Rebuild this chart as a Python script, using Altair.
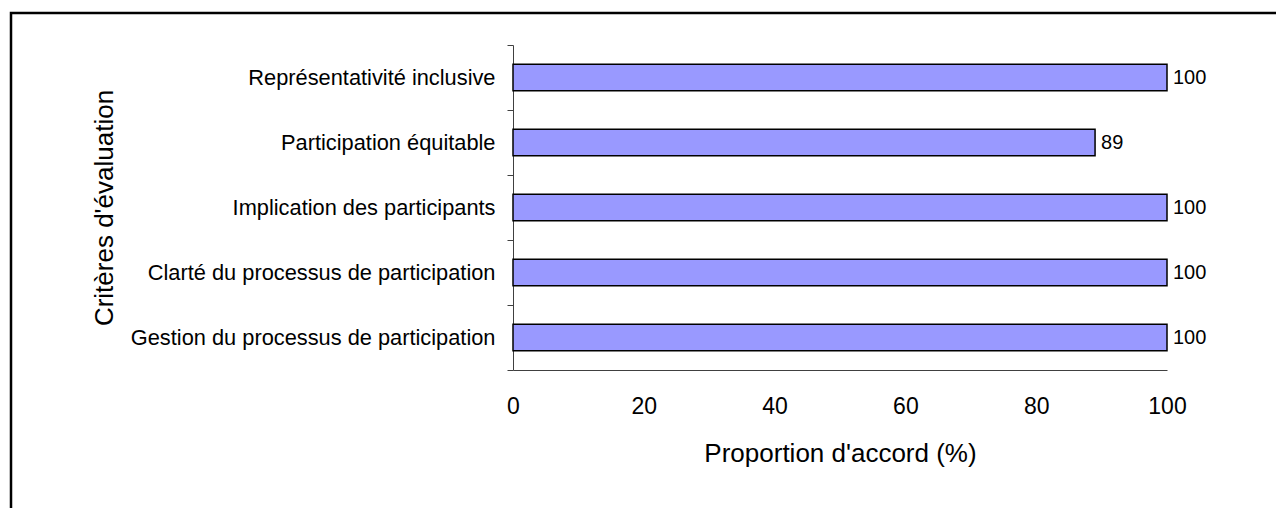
import altair as alt
import pandas as pd

criteres = [
    "Représentativité inclusive",
    "Participation équitable",
    "Implication des participants",
    "Clarté du processus de participation",
    "Gestion du processus de participation",
]
proportions = [100, 89, 100, 100, 100]
x_ticks = [0, 20, 40, 60, 80, 100]

df = pd.DataFrame({"critere": criteres, "valeur": proportions})
FONT = "Liberation Sans"

y_enc = alt.Y(
    "critere:N",
    sort=criteres,
    scale=alt.Scale(paddingInner=0, paddingOuter=0),
    axis=alt.Axis(
        title="Critères d'évaluation",
        titleFont=FONT, titleFontSize=26, titleFontWeight="normal", titleColor="black",
        titleX=-396,
        labelFont=FONT, labelFontSize=21.8, labelColor="black", labelPadding=12,
        tickSize=6, tickColor="#404040", tickBand="extent",
        domainColor="#404040", grid=False, labelLimit=600,
    ),
)

x_enc = alt.X(
    "valeur:Q",
    scale=alt.Scale(domain=[0, 100], nice=False),
    axis=alt.Axis(
        values=x_ticks,
        title="Proportion d'accord (%)",
        titleFont=FONT, titleFontSize=26, titleFontWeight="normal", titleColor="black",
        titlePadding=22,
        labelFont=FONT, labelFontSize=23, labelColor="black", labelPadding=25,
        labelFlush=False,
        ticks=False, tickSize=0, domainColor="#404040", grid=False,
    ),
)

base = alt.Chart(df)
bars = base.mark_bar(fill="#9999FF", stroke="black", strokeWidth=1.5, size=26.6).encode(y=y_enc, x=x_enc)
labels = base.mark_text(align="left", baseline="middle", dx=6, font=FONT, fontSize=20, color="black").encode(
    y=alt.Y("critere:N", sort=criteres), x="valeur:Q", text="valeur:Q"
)
frame = alt.Chart(pd.DataFrame({"f": [0]})).mark_rect(
    filled=False, stroke="black", strokeWidth=2.5
).encode(x=alt.value(-502), x2=alt.value(800), y=alt.value(-32), y2=alt.value(500))

chart = alt.layer(bars, labels, frame).properties(
    width=654, height=325,
    autosize=alt.AutoSizeParams(type="none"),
    padding={"left": 513, "top": 45, "right": 109, "bottom": 138},
    background="white",
).configure_view(strokeWidth=0, stroke="transparent")

chart.save("out.html", embed_options={"renderer": "svg", "actions": False})
